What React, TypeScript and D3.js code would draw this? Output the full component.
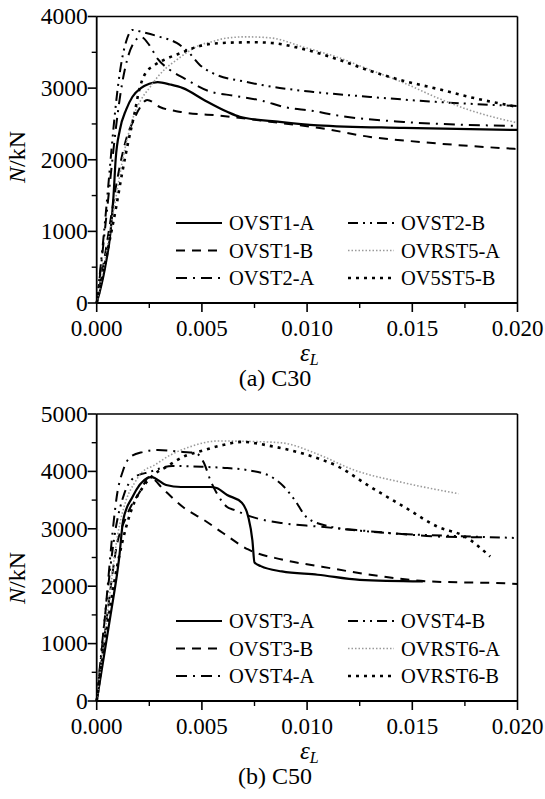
import React from "react";
import * as d3 from "d3";

// (a) C30 panel
const c30Names = ["OVST1-A", "OVST1-B", "OVST2-A", "OVST2-B", "OVRST5-A", "OV5ST5-B"];

const ovst1aE = [0, 0.0004, 0.00066, 0.0008, 0.0009, 0.0011, 0.0014, 0.0017, 0.0021, 0.0025, 0.0029, 0.0035, 0.0041, 0.0051, 0.0062, 0.0068, 0.0087, 0.0105, 0.0146, 0.02];
const ovst1aN = [0, 500, 1000, 1500, 2000, 2416, 2700, 2880, 3000, 3060, 3083, 3050, 3000, 2835, 2670, 2600, 2528, 2480, 2444, 2416];

const ovst1bE = [0, 0.0003, 0.0006, 0.0009, 0.0012, 0.0015, 0.0017, 0.002, 0.0024, 0.003, 0.004, 0.006, 0.0076, 0.0087, 0.0106, 0.013, 0.0154, 0.0177, 0.02];
const ovst1bN = [0, 500, 1050, 1600, 2050, 2380, 2514, 2700, 2835, 2737, 2667, 2612, 2556, 2514, 2444, 2318, 2248, 2193, 2150];

const ovst2aE = [0, 0.0002, 0.0004, 0.0006, 0.0008, 0.001, 0.0012, 0.0015, 0.0018, 0.0021, 0.0025, 0.0029, 0.0035, 0.0042, 0.0053, 0.0066, 0.0079, 0.0089, 0.0103, 0.0114, 0.0146, 0.02];
const ovst2aN = [0, 500, 1050, 1600, 2150, 2650, 3050, 3450, 3650, 3715, 3600, 3408, 3250, 3129, 2961, 2891, 2821, 2737, 2681, 2620, 2528, 2472];

const ovst2bE = [0, 0.0002, 0.0004, 0.0006, 0.0008, 0.001, 0.0012, 0.0014, 0.0017, 0.0022, 0.003, 0.0038, 0.0044, 0.0049, 0.0055, 0.0071, 0.0087, 0.0103, 0.013, 0.0162, 0.02];
const ovst2bN = [0, 550, 1150, 1800, 2450, 3000, 3400, 3650, 3813, 3780, 3716, 3631, 3491, 3324, 3212, 3087, 3003, 2947, 2877, 2807, 2750];

const ovrst5aE = [0, 0.0003, 0.0006, 0.0009, 0.0012, 0.0015, 0.0018, 0.0021, 0.0025, 0.0029, 0.0033, 0.0038, 0.0043, 0.0049, 0.0055, 0.006, 0.0071, 0.0083, 0.0098, 0.0114, 0.013, 0.0146, 0.0162, 0.0177, 0.02];
const ovrst5aN = [0, 450, 950, 1450, 1950, 2350, 2650, 2835, 3000, 3157, 3280, 3394, 3500, 3600, 3650, 3690, 3716, 3700, 3575, 3435, 3254, 3073, 2863, 2695, 2514];

const ov5st5bE = [0, 0.0003, 0.0006, 0.0009, 0.0012, 0.0015, 0.0018, 0.002, 0.0023, 0.0027, 0.0033, 0.004, 0.0049, 0.006, 0.0075, 0.0083, 0.0098, 0.0114, 0.013, 0.0146, 0.0162, 0.0177, 0.02];
const ov5st5bN = [0, 400, 850, 1300, 1800, 2250, 2650, 2950, 3200, 3310, 3408, 3491, 3589, 3631, 3640, 3631, 3547, 3408, 3240, 3101, 2989, 2877, 2737];

// (b) C50 panel
const c50Names = ["OVST3-A", "OVST3-B", "OVST4-A", "OVST4-B", "OVRST6-A", "OVRST6-B"];

const ovst3aE = [0, 0.00066, 0.00107, 0.00126, 0.0017, 0.0024, 0.0026, 0.0033, 0.004, 0.0054, 0.0057, 0.0062, 0.0069, 0.0072, 0.0074, 0.0075, 0.0078, 0.0088, 0.0105, 0.0125, 0.0155];
const ovst3aN = [0, 1500, 2500, 3153, 3554, 3885, 3902, 3763, 3728, 3728, 3711, 3589, 3455, 3212, 2800, 2413, 2350, 2257, 2200, 2110, 2083];

const ovst3bE = [0, 0.0005, 0.00095, 0.0014, 0.0021, 0.0025, 0.0032, 0.0041, 0.0051, 0.006, 0.0072, 0.0088, 0.0107, 0.013, 0.0158, 0.0194, 0.02];
const ovst3bN = [0, 1500, 2700, 3205, 3676, 3902, 3676, 3380, 3153, 2927, 2640, 2465, 2340, 2200, 2083, 2050, 2040];

const ovst4aE = [0, 0.0004, 0.0008, 0.00095, 0.00126, 0.0016, 0.0022, 0.0029, 0.0041, 0.0047, 0.0051, 0.0054, 0.0057, 0.0062, 0.0065, 0.0075, 0.0088, 0.0105, 0.0121, 0.0145, 0.0162, 0.0185];
const ovst4aN = [0, 1500, 3100, 3554, 4024, 4251, 4338, 4373, 4338, 4320, 4146, 3850, 3624, 3380, 3333, 3194, 3100, 3040, 2986, 2910, 2865, 2850];

const ovst4bE = [0, 0.0004, 0.0009, 0.0013, 0.0018, 0.0025, 0.0036, 0.0052, 0.0062, 0.0072, 0.0083, 0.0089, 0.0094, 0.01, 0.0111, 0.013, 0.0178, 0.02];
const ovst4bN = [0, 1500, 3000, 3600, 3900, 3990, 4094, 4077, 4059, 4020, 3906, 3733, 3507, 3194, 3038, 2950, 2865, 2840];

const ovrst6aE = [0, 0.0005, 0.001, 0.0014, 0.0018, 0.0022, 0.0027, 0.0035, 0.0044, 0.0058, 0.0075, 0.0088, 0.0105, 0.0122, 0.0146, 0.0172];
const ovrst6aN = [0, 1500, 2900, 3500, 3800, 4000, 4100, 4285, 4425, 4530, 4520, 4497, 4300, 4028, 3802, 3611];

const ovrst6bE = [0, 0.0005, 0.001, 0.0014, 0.0017, 0.0022, 0.0027, 0.0033, 0.0043, 0.0048, 0.006, 0.0069, 0.0083, 0.0099, 0.0115, 0.013, 0.0146, 0.0162, 0.0175, 0.0187];
const ovrst6bN = [0, 1300, 2400, 3031, 3380, 3728, 3937, 4077, 4285, 4338, 4460, 4514, 4440, 4300, 4080, 3733, 3385, 3038, 2865, 2517];

const xTicks = [0, 0.005, 0.01, 0.015, 0.02];
const c30YTicks = [0, 1000, 2000, 3000, 4000];
const c50YTicks = [0, 1000, 2000, 3000, 4000, 5000];

const styles = [
  { dash: "", color: "#000", width: 2.2 },
  { dash: "9,7", color: "#000", width: 2 },
  { dash: "11,6,2,6", color: "#000", width: 2 },
  { dash: "10,5,2,5,2,5", color: "#000", width: 2 },
  { dash: "1.5,2", color: "#9a9a9a", width: 1.6 },
  { dash: "3,5", color: "#000", width: 2.6 },
];

const FONT = "'Liberation Serif', 'Times New Roman', serif";

type Series = { name: string; e: number[]; n: number[] };

const Panel = ({ top, bottom, yMax, yTicks, series, caption, labelY }: any) => {
  const left = 96.7, right = 517.5;
  const x = d3.scaleLinear().domain([0, 0.02]).range([left, right]);
  const y = d3.scaleLinear().domain([0, yMax]).range([bottom, top]);
  const line = d3.line<[number, number]>()
    .x(d => x(d[0]))
    .y(d => y(d[1]))
    .curve(d3.curveMonotoneX);

  const minorY = d3.range(0, yMax + 1, 500).filter(v => v % 1000 !== 0);
  const minorX = [0.0025, 0.0075, 0.0125, 0.0175];

  return (
    <g fontFamily={FONT}>
      {series.map((s: Series, i: number) => (
        <path key={s.name} d={line(s.e.map((v, j) => [v, s.n[j]]) as any) || ""}
          fill="none" stroke={styles[i].color} strokeWidth={styles[i].width}
          strokeDasharray={styles[i].dash || undefined} />
      ))}
      <line x1={left} x2={right} y1={top} y2={top} stroke="#000" strokeWidth={1.6} />
      <line x1={right} x2={right} y1={top} y2={bottom} stroke="#000" strokeWidth={1.6} />
      <line x1={left} x2={left} y1={top} y2={bottom} stroke="#000" strokeWidth={1.8} />
      <line x1={left} x2={right} y1={bottom} y2={bottom} stroke="#000" strokeWidth={1.8} />
      {yTicks.map((t: number) => (
        <g key={t}>
          <line x1={left - 9} x2={left} y1={y(t)} y2={y(t)} stroke="#000" strokeWidth={1.6} />
          <text x={left - 9} y={y(t)} dy="0.33em" textAnchor="end" fontSize={23.5}>{t}</text>
        </g>
      ))}
      {minorY.map(t => (
        <line key={t} x1={left - 5} x2={left} y1={y(t)} y2={y(t)} stroke="#000" strokeWidth={1.4} />
      ))}
      {xTicks.map(t => (
        <g key={t}>
          <line x1={x(t)} x2={x(t)} y1={bottom} y2={bottom + 9} stroke="#000" strokeWidth={1.6} />
          <text x={x(t)} y={bottom + 32.5} textAnchor="middle" fontSize={23}>{t.toFixed(3)}</text>
        </g>
      ))}
      {minorX.map(t => (
        <line key={t} x1={x(t)} x2={x(t)} y1={bottom} y2={bottom + 5} stroke="#000" strokeWidth={1.4} />
      ))}
      <text transform={`translate(25,${labelY}) rotate(-90)`} textAnchor="middle" fontSize={24}>
        <tspan fontStyle="italic">N</tspan>/kN
      </text>
      <text x={300} y={bottom + 58} fontSize={25} fontStyle="italic">
        ε<tspan fontSize={16} dy={4}>L</tspan>
      </text>
      <text x={275} y={bottom + 83} textAnchor="middle" fontSize={24}>{caption}</text>
      {series.map((s: Series, i: number) => {
        const col = Math.floor(i / 3), row = i % 3;
        const sx = col === 0 ? 176 : 348;
        const sy = bottom - 80 + row * 27.5;
        return (
          <g key={"lg" + s.name}>
            <line x1={sx} x2={sx + 46} y1={sy} y2={sy} stroke={styles[i].color}
              strokeWidth={styles[i].width} strokeDasharray={styles[i].dash || undefined} />
            <text x={sx + 53} y={sy} dy="0.35em" fontSize={20.5}>{s.name}</text>
          </g>
        );
      })}
    </g>
  );
};

const c30Series: Series[] = [
  { name: c30Names[0], e: ovst1aE, n: ovst1aN },
  { name: c30Names[1], e: ovst1bE, n: ovst1bN },
  { name: c30Names[2], e: ovst2aE, n: ovst2aN },
  { name: c30Names[3], e: ovst2bE, n: ovst2bN },
  { name: c30Names[4], e: ovrst5aE, n: ovrst5aN },
  { name: c30Names[5], e: ov5st5bE, n: ov5st5bN },
];

const c50Series: Series[] = [
  { name: c50Names[0], e: ovst3aE, n: ovst3aN },
  { name: c50Names[1], e: ovst3bE, n: ovst3bN },
  { name: c50Names[2], e: ovst4aE, n: ovst4aN },
  { name: c50Names[3], e: ovst4bE, n: ovst4bN },
  { name: c50Names[4], e: ovrst6aE, n: ovrst6aN },
  { name: c50Names[5], e: ovrst6bE, n: ovrst6bN },
];

export default function App() {
  return (
    <svg width={545} height={799} style={{ position: "absolute", left: 0, top: 0, background: "#fff" }}>
      <rect width={545} height={799} fill="#fff" />
      <Panel top={16.5} bottom={303} yMax={4000} yTicks={c30YTicks} series={c30Series} caption="(a) C30" labelY={157} />
      <Panel top={414} bottom={701} yMax={5000} yTicks={c50YTicks} series={c50Series} caption="(b) C50" labelY={578} />
    </svg>
  );
}
